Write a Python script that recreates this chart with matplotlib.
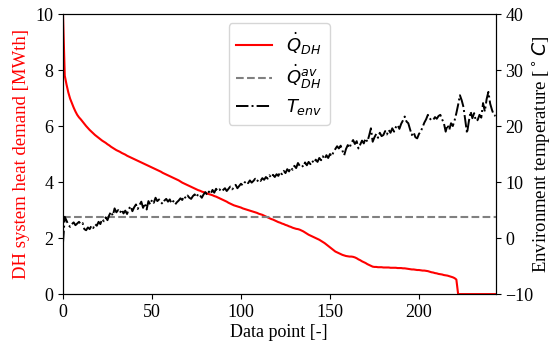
import matplotlib
matplotlib.use("Agg")
import matplotlib.pyplot as plt
import numpy as np

heat_demand = [
    10.0, 7.80, 7.48, 7.20, 6.98, 6.82, 6.66, 6.52, 6.40, 6.31,
    6.24, 6.16, 6.08, 6.00, 5.93, 5.86, 5.80, 5.74, 5.68, 5.63,
    5.58, 5.53, 5.48, 5.44, 5.40, 5.35, 5.31, 5.26, 5.22, 5.18,
    5.14, 5.11, 5.08, 5.04, 5.01, 4.98, 4.94, 4.91, 4.88, 4.85,
    4.82, 4.79, 4.76, 4.73, 4.70, 4.67, 4.64, 4.61, 4.58, 4.55,
    4.52, 4.49, 4.46, 4.43, 4.40, 4.37, 4.33, 4.30, 4.27, 4.24,
    4.21, 4.18, 4.15, 4.12, 4.09, 4.06, 4.02, 3.98, 3.95, 3.92,
    3.89, 3.86, 3.83, 3.80, 3.77, 3.74, 3.71, 3.69, 3.66, 3.64,
    3.62, 3.59, 3.57, 3.55, 3.53, 3.50, 3.48, 3.45, 3.42, 3.39,
    3.36, 3.33, 3.30, 3.26, 3.23, 3.20, 3.17, 3.15, 3.13, 3.11,
    3.09, 3.06, 3.04, 3.02, 3.00, 2.98, 2.96, 2.94, 2.92, 2.90,
    2.87, 2.85, 2.83, 2.80, 2.77, 2.74, 2.71, 2.68, 2.66, 2.63,
    2.60, 2.57, 2.55, 2.52, 2.50, 2.47, 2.45, 2.42, 2.40, 2.37,
    2.35, 2.33, 2.32, 2.30, 2.27, 2.24, 2.20, 2.16, 2.12, 2.09,
    2.06, 2.03, 2.00, 1.97, 1.94, 1.90, 1.86, 1.82, 1.77, 1.72,
    1.67, 1.62, 1.57, 1.52, 1.49, 1.46, 1.43, 1.40, 1.38, 1.36,
    1.35, 1.34, 1.34, 1.33, 1.31, 1.28, 1.24, 1.21, 1.17, 1.14,
    1.11, 1.07, 1.04, 1.01, 0.98, 0.97, 0.97, 0.96, 0.96, 0.96,
    0.95, 0.95, 0.95, 0.95, 0.94, 0.94, 0.94, 0.94, 0.93, 0.93,
    0.93, 0.92, 0.92, 0.91, 0.90, 0.89, 0.88, 0.88, 0.87, 0.86,
    0.86, 0.85, 0.84, 0.84, 0.83, 0.82, 0.80, 0.78, 0.77, 0.75,
    0.74, 0.72, 0.71, 0.70, 0.68, 0.67, 0.66, 0.64, 0.62, 0.60,
    0.57, 0.52, 0.0, 0.0, 0.0, 0.0, 0.0, 0.0, 0.0, 0.0,
    0.0, 0.0, 0.0, 0.0, 0.0, 0.0, 0.0, 0.0, 0.0, 0.0,
    0.0, 0.0, 0.0, 0.0,
]

temperature = [
    -0.9, 3.8, 3.1, 2.4, 2.0, 2.5, 2.8, 2.3, 2.6, 2.9,
    2.5, 2.7, 1.6, 1.4, 1.9, 1.6, 2.2, 1.8, 2.5, 2.2,
    2.9, 2.5, 3.4, 3.0, 3.7, 3.2, 4.1, 4.7, 4.0, 5.3,
    4.6, 5.0, 4.5, 5.1, 4.4, 4.9, 4.3, 5.2, 5.7, 4.8,
    5.5, 6.0, 5.2, 5.9, 6.5, 5.4, 6.2, 5.1, 6.6, 6.0,
    6.8, 6.3, 7.2, 6.6, 6.9, 6.4, 6.1, 6.7, 7.0, 6.5,
    6.9, 6.2, 6.6, 6.0, 6.4, 6.7, 7.1, 6.8, 7.5, 7.1,
    7.6, 7.2, 7.0, 7.5, 7.8, 7.3, 7.9, 7.6, 7.2, 7.8,
    8.2, 7.7, 8.3, 7.9, 8.6, 8.1, 8.8, 8.4, 8.7, 8.3,
    8.6, 8.9, 8.4, 8.8, 9.2, 8.7, 9.0, 9.5, 8.9, 9.3,
    9.7, 9.4, 9.9, 10.2, 9.8, 10.3, 9.9, 10.2, 10.6, 10.1,
    10.5, 10.2, 10.7, 10.4, 10.9, 10.6, 11.2, 10.8, 11.3, 10.9,
    11.4, 11.1, 11.8, 11.4, 12.0, 11.6, 12.3, 11.9, 12.6, 12.2,
    12.9, 12.5, 13.4, 12.9, 13.1, 12.7, 13.5, 13.0, 13.6, 13.2,
    13.8, 13.4, 14.0, 13.6, 14.3, 13.9, 14.6, 14.1, 14.8, 14.3,
    15.0, 14.6, 15.4, 15.9, 16.4, 16.0, 16.5, 15.6, 14.8, 15.9,
    16.6, 16.1, 17.0, 17.5, 16.8, 17.3, 16.0, 16.7, 17.4, 16.9,
    17.8, 17.2, 18.3, 19.6, 17.2, 18.0, 18.6, 17.9, 18.8, 18.2,
    18.4, 19.1, 18.5, 19.3, 18.8, 19.6, 19.0, 19.8, 20.2, 19.5,
    20.4, 21.0, 21.7, 20.8, 20.5, 19.4, 18.4, 18.9, 18.0, 17.8,
    18.6, 19.0, 19.8, 20.6, 21.2, 22.0, 21.4, 21.0, 21.1, 21.6,
    21.3, 21.8, 22.0, 21.2, 20.5, 19.0, 20.2, 19.3, 20.5, 20.0,
    21.0, 22.3, 23.8, 25.5, 24.6, 23.4, 21.0, 18.7, 20.8, 22.6,
    21.4, 22.3, 20.9, 21.1, 22.0, 21.5, 24.1, 22.6, 24.8, 26.1,
    24.0, 22.9, 22.0, 21.8,
]

average_demand = 2.76

x = np.arange(len(heat_demand))

plt.rcParams['font.family'] = ['Liberation Serif', 'DejaVu Serif']
plt.rcParams['mathtext.fontset'] = 'dejavusans'

fig = plt.figure(figsize=(5.51, 3.46), dpi=100)
ax = fig.add_axes([0.1143, 0.150, 0.7850, 0.8095])
ax2 = ax.twinx()

l1, = ax.plot(x, heat_demand, color='red', lw=1.5, label=r'$\dot{Q}_{DH}$')
l2 = ax.axhline(average_demand, color='gray', ls='--', lw=1.5, label=r'$\dot{Q}_{DH}^{av}$')
l3, = ax2.plot(x, temperature, color='black', ls='-.', lw=1.4, label=r'$T_{env}$')

ax.set_xlim(0, len(heat_demand) - 1)
ax.set_ylim(0, 10)
ax2.set_ylim(-10, 40)
ax.set_xticks([0, 50, 100, 150, 200])
ax.set_yticks([0, 2, 4, 6, 8, 10])
ax2.set_yticks([-10, 0, 10, 20, 30, 40])

ax.tick_params(labelsize=13)
ax2.tick_params(labelsize=13)
ax.set_xlabel('Data point [-]', fontsize=13, labelpad=2)
ax.set_ylabel('DH system heat demand [MWth]', color='red', fontsize=13.5)
ax2.set_ylabel(r'Environment temperature [$^\circ C$]', fontsize=13.5)
ax2.yaxis.set_label_coords(1.08, 0.5)

leg = ax.legend(handles=[l1, l2, l3], loc='upper center',
                prop={'family': 'DejaVu Sans', 'size': 13},
                labelspacing=0.35, borderaxespad=0.5)

fig.savefig('out.png', dpi=100)
